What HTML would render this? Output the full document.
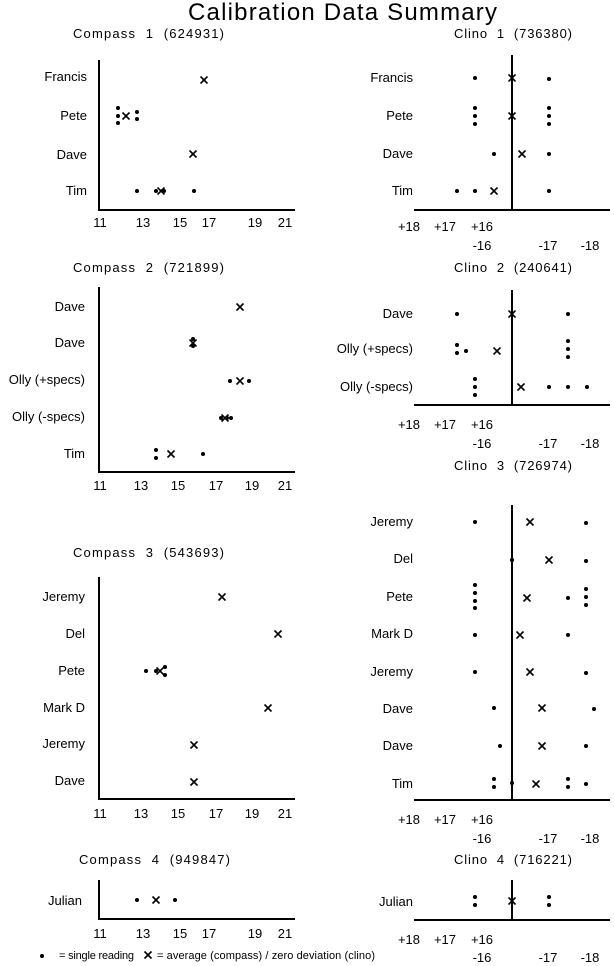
<!DOCTYPE html>
<html><head><meta charset="utf-8"><style>
html,body{margin:0;padding:0;background:#fff}
svg{display:block}
text{font-family:"Liberation Sans",Arial,sans-serif;fill:#000}
.l{font-size:13px;text-anchor:end}
.t{font-size:13px}
.k{font-size:13px;text-anchor:middle}
.ax{stroke:#000;stroke-width:2;fill:none}
.x{stroke:#000;stroke-width:1.6}
</style></head><body>
<svg width="614" height="966" viewBox="0 0 614 966">
<defs>
<g id="X"><line class="x" x1="-3.5" y1="-3.5" x2="3.5" y2="3.5"/><line class="x" x1="-3.5" y1="3.5" x2="3.5" y2="-3.5"/></g>
<circle id="D" r="2" fill="#000"/>
</defs>
<text x="188" y="20" style="font-size:24px" textLength="309" lengthAdjust="spacing">Calibration Data Summary</text>

<!-- Compass 1 -->
<text class="t" x="73" y="38" textLength="151" lengthAdjust="spacing" xml:space="preserve">Compass  1  (624931)</text>
<path class="ax" d="M99 60 V210 H295"/>
<g class="k"><text x="100" y="227">11</text><text x="143" y="227">13</text><text x="180" y="227">15</text><text x="209" y="227">17</text><text x="255" y="227">19</text><text x="285" y="227">21</text></g>
<g class="l"><text x="87" y="81">Francis</text><text x="87" y="120">Pete</text><text x="87" y="159">Dave</text><text x="87" y="195">Tim</text></g>
<use href="#X" x="204" y="80"/>
<use href="#D" x="118" y="108"/><use href="#D" x="118" y="116"/><use href="#D" x="118" y="123"/><use href="#X" x="126" y="116"/><use href="#D" x="137" y="112"/><use href="#D" x="137" y="119"/>
<use href="#X" x="193" y="154"/>
<use href="#D" x="137" y="191"/><use href="#D" x="156" y="191"/><use href="#X" x="161" y="191"/><use href="#D" x="164" y="191"/><use href="#D" x="194" y="191"/>

<!-- Clino 1 -->
<text class="t" x="454" y="38" textLength="118" lengthAdjust="spacing" xml:space="preserve">Clino  1  (736380)</text>
<path class="ax" d="M512 55 V210 M414 210 H610"/>
<g class="k"><text x="409" y="231">+18</text><text x="445" y="231">+17</text><text x="482" y="231">+16</text><text x="482" y="250">-16</text><text x="548" y="250">-17</text><text x="590" y="250">-18</text></g>
<g class="l"><text x="413" y="82">Francis</text><text x="413" y="120">Pete</text><text x="413" y="158">Dave</text><text x="413" y="195">Tim</text></g>
<use href="#D" x="475" y="78"/><use href="#X" x="512" y="78"/><use href="#D" x="549" y="79"/>
<use href="#D" x="475" y="108"/><use href="#D" x="475" y="116"/><use href="#D" x="475" y="124"/><use href="#X" x="512" y="116"/><use href="#D" x="549" y="108"/><use href="#D" x="549" y="116"/><use href="#D" x="549" y="124"/>
<use href="#D" x="494" y="154"/><use href="#X" x="522" y="154"/><use href="#D" x="549" y="154"/>
<use href="#D" x="457" y="191"/><use href="#D" x="475" y="191"/><use href="#X" x="494" y="191"/><use href="#D" x="549" y="191"/>

<!-- Compass 2 -->
<text class="t" x="73" y="272" textLength="151" lengthAdjust="spacing" xml:space="preserve">Compass  2  (721899)</text>
<path class="ax" d="M99 287 V472 H295"/>
<g class="k"><text x="100" y="490">11</text><text x="141" y="490">13</text><text x="178" y="490">15</text><text x="216" y="490">17</text><text x="252" y="490">19</text><text x="285" y="490">21</text></g>
<g class="l"><text x="85" y="311">Dave</text><text x="85" y="347">Dave</text><text x="85" y="384">Olly (+specs)</text><text x="85" y="421">Olly (-specs)</text><text x="85" y="458">Tim</text></g>
<use href="#X" x="240" y="307"/>
<use href="#D" x="193" y="339"/><use href="#D" x="193" y="346"/><use href="#X" x="193" y="343"/>
<use href="#D" x="230" y="381"/><use href="#X" x="240" y="381"/><use href="#D" x="249" y="381"/>
<use href="#D" x="221" y="418"/><use href="#X" x="225" y="418"/><use href="#D" x="227" y="418"/><use href="#D" x="231" y="418"/>
<use href="#D" x="156" y="450"/><use href="#D" x="156" y="458"/><use href="#X" x="171" y="454"/><use href="#D" x="203" y="454"/>

<!-- Clino 2 -->
<text class="t" x="454" y="272" textLength="118" lengthAdjust="spacing" xml:space="preserve">Clino  2  (240641)</text>
<path class="ax" d="M512 290 V405 M414 405 H610"/>
<g class="k"><text x="409" y="429">+18</text><text x="445" y="429">+17</text><text x="482" y="429">+16</text><text x="482" y="448">-16</text><text x="548" y="448">-17</text><text x="590" y="448">-18</text></g>
<g class="l"><text x="413" y="318">Dave</text><text x="413" y="353">Olly (+specs)</text><text x="413" y="391">Olly (-specs)</text></g>
<use href="#D" x="457" y="314"/><use href="#X" x="512" y="314"/><use href="#D" x="568" y="314"/>
<use href="#D" x="457" y="345"/><use href="#D" x="457" y="353"/><use href="#D" x="466" y="351"/><use href="#X" x="497" y="351"/><use href="#D" x="568" y="341"/><use href="#D" x="568" y="349"/><use href="#D" x="568" y="357"/>
<use href="#D" x="475" y="379"/><use href="#D" x="475" y="387"/><use href="#D" x="475" y="395"/><use href="#X" x="521" y="387"/><use href="#D" x="549" y="387"/><use href="#D" x="568" y="387"/><use href="#D" x="587" y="387"/>

<!-- Clino 3 -->
<text class="t" x="454" y="470" textLength="118" lengthAdjust="spacing" xml:space="preserve">Clino  3  (726974)</text>
<path class="ax" d="M512 505 V800 M414 800 H610"/>
<g class="k"><text x="409" y="824">+18</text><text x="445" y="824">+17</text><text x="482" y="824">+16</text><text x="482" y="843">-16</text><text x="548" y="843">-17</text><text x="590" y="843">-18</text></g>
<g class="l"><text x="413" y="526">Jeremy</text><text x="413" y="563">Del</text><text x="413" y="601">Pete</text><text x="413" y="638">Mark D</text><text x="413" y="676">Jeremy</text><text x="413" y="713">Dave</text><text x="413" y="750">Dave</text><text x="413" y="788">Tim</text></g>
<use href="#D" x="475" y="522"/><use href="#X" x="530" y="522"/><use href="#D" x="586" y="523"/>
<use href="#D" x="512" y="560"/><use href="#X" x="549" y="560"/><use href="#D" x="586" y="561"/>
<use href="#D" x="475" y="585"/><use href="#D" x="475" y="593"/><use href="#D" x="475" y="601"/><use href="#D" x="475" y="608"/><use href="#X" x="527" y="598"/><use href="#D" x="568" y="598"/><use href="#D" x="586" y="589"/><use href="#D" x="586" y="597"/><use href="#D" x="586" y="605"/>
<use href="#D" x="475" y="635"/><use href="#X" x="520" y="635"/><use href="#D" x="568" y="635"/>
<use href="#D" x="475" y="672"/><use href="#X" x="530" y="672"/><use href="#D" x="586" y="673"/>
<use href="#D" x="494" y="708"/><use href="#X" x="542" y="708"/><use href="#D" x="594" y="709"/>
<use href="#D" x="500" y="746"/><use href="#X" x="542" y="746"/><use href="#D" x="586" y="746"/>
<use href="#D" x="494" y="779"/><use href="#D" x="494" y="787"/><use href="#D" x="512" y="783"/><use href="#X" x="536" y="784"/><use href="#D" x="568" y="779"/><use href="#D" x="568" y="787"/><use href="#D" x="586" y="784"/>

<!-- Compass 3 -->
<text class="t" x="73" y="557" textLength="151" lengthAdjust="spacing" xml:space="preserve">Compass  3  (543693)</text>
<path class="ax" d="M99 577 V799 H295"/>
<g class="k"><text x="100" y="818">11</text><text x="141" y="818">13</text><text x="178" y="818">15</text><text x="216" y="818">17</text><text x="252" y="818">19</text><text x="285" y="818">21</text></g>
<g class="l"><text x="85" y="601">Jeremy</text><text x="85" y="638">Del</text><text x="85" y="675">Pete</text><text x="85" y="712">Mark D</text><text x="85" y="748">Jeremy</text><text x="85" y="785">Dave</text></g>
<use href="#X" x="222" y="597"/>
<use href="#X" x="278" y="634"/>
<use href="#D" x="146" y="671"/><use href="#D" x="156" y="671"/><use href="#X" x="160" y="671"/><use href="#D" x="165" y="667"/><use href="#D" x="165" y="675"/>
<use href="#X" x="268" y="708"/>
<use href="#X" x="194" y="745"/>
<use href="#X" x="194" y="782"/>

<!-- Compass 4 -->
<text class="t" x="79" y="864" textLength="151" lengthAdjust="spacing" xml:space="preserve">Compass  4  (949847)</text>
<path class="ax" d="M99 880 V919 H295"/>
<g class="k"><text x="100" y="938">11</text><text x="143" y="938">13</text><text x="180" y="938">15</text><text x="209" y="938">17</text><text x="255" y="938">19</text><text x="285" y="938">21</text></g>
<g class="l"><text x="82" y="905">Julian</text></g>
<use href="#D" x="137" y="900"/><use href="#X" x="156" y="900"/><use href="#D" x="175" y="900"/>

<!-- Clino 4 -->
<text class="t" x="454" y="864" textLength="118" lengthAdjust="spacing" xml:space="preserve">Clino  4  (716221)</text>
<path class="ax" d="M512 880 V920 M414 920 H610"/>
<g class="k"><text x="409" y="944">+18</text><text x="445" y="944">+17</text><text x="482" y="944">+16</text><text x="482" y="962">-16</text><text x="548" y="962">-17</text><text x="590" y="962">-18</text></g>
<g class="l"><text x="413" y="906">Julian</text></g>
<use href="#D" x="475" y="897"/><use href="#D" x="475" y="905"/><use href="#X" x="512" y="901"/><use href="#D" x="549" y="897"/><use href="#D" x="549" y="905"/>

<!-- legend -->
<use href="#D" x="42" y="956"/>
<text x="59" y="959" style="font-size:11px" textLength="75" lengthAdjust="spacing">= single reading</text>
<use href="#X" x="148" y="955"/>
<text x="157" y="959" style="font-size:11px" textLength="218" lengthAdjust="spacing">= average (compass) / zero deviation (clino)</text>
</svg>
</body></html>
